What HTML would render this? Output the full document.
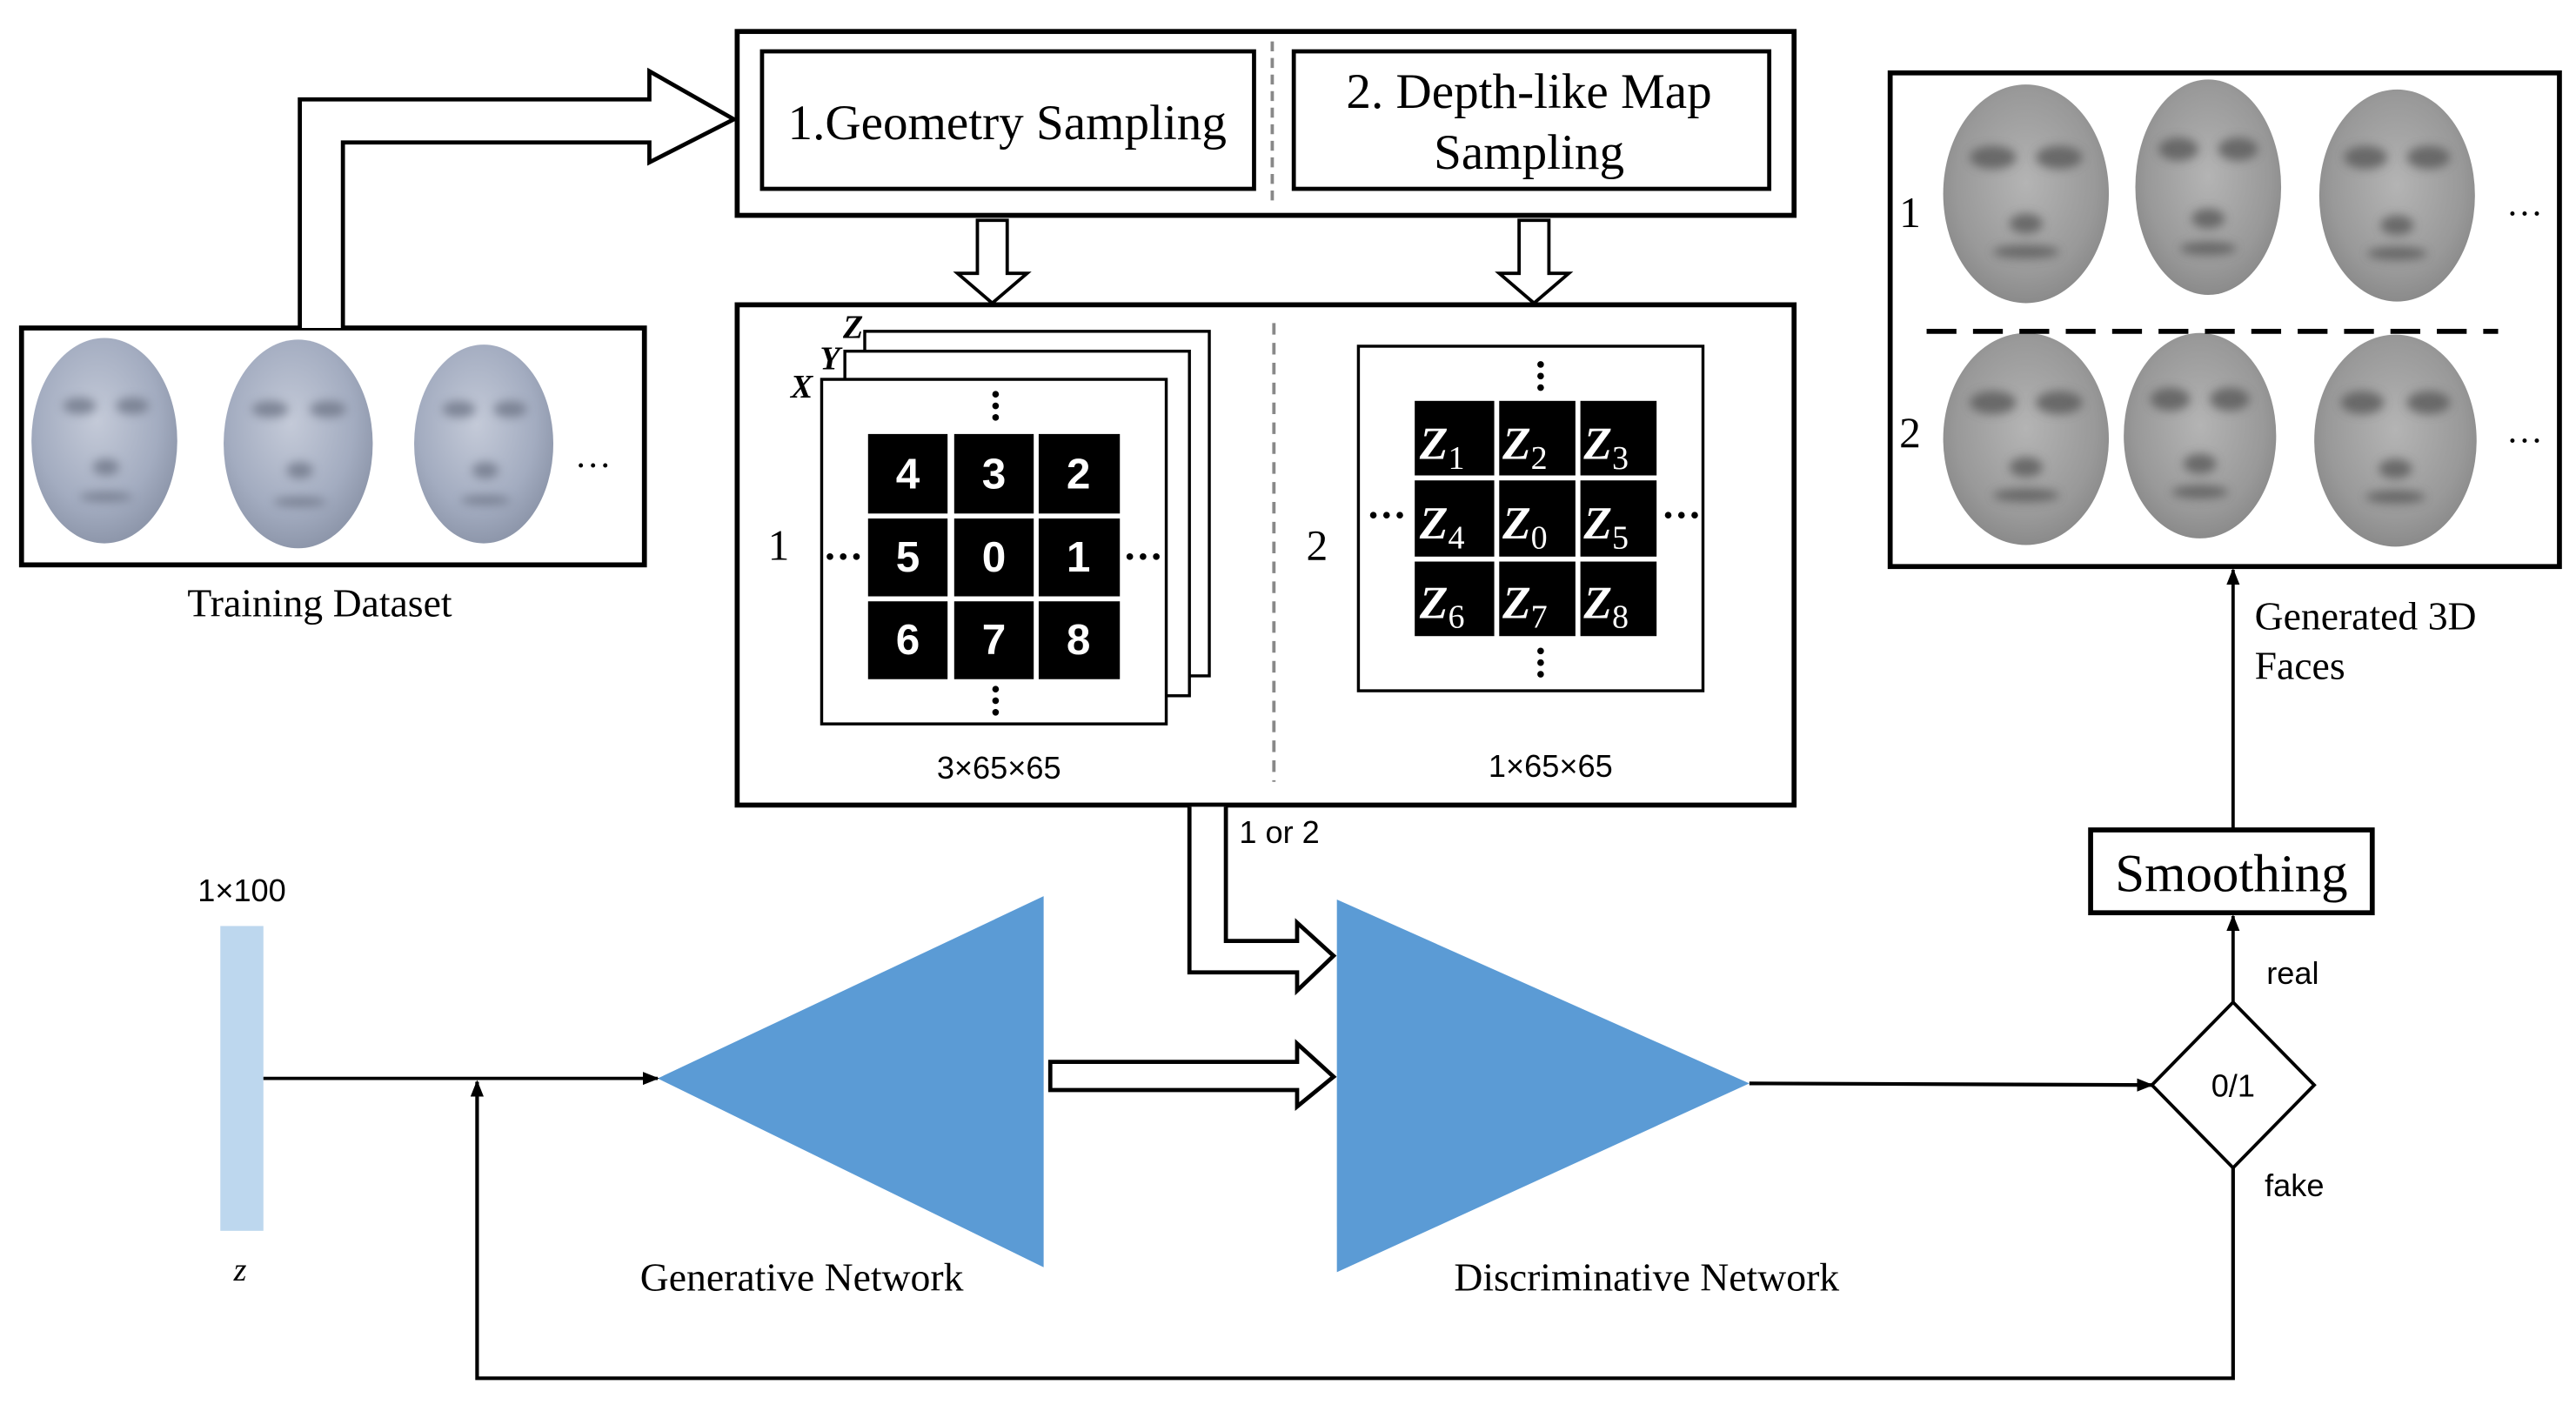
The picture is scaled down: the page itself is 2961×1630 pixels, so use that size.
<!DOCTYPE html>
<html><head><meta charset="utf-8"><style>
html,body{margin:0;padding:0;background:#fff;}
svg{display:block;}
.serif{font-family:"Liberation Serif",serif;}
.sans{font-family:"Liberation Sans","DejaVu Sans",sans-serif;}
</style></head><body>
<svg width="2961" height="1630" viewBox="0 0 1555 856" preserveAspectRatio="none" xmlns="http://www.w3.org/2000/svg">
<defs>
<radialGradient id="fb" cx="45%" cy="40%" r="60%">
<stop offset="0" stop-color="#c4cad8"/><stop offset="0.7" stop-color="#a3acc0"/><stop offset="1" stop-color="#8e97ab"/>
</radialGradient>
<radialGradient id="fg" cx="50%" cy="45%" r="60%">
<stop offset="0" stop-color="#b4b4b4"/><stop offset="0.7" stop-color="#999"/><stop offset="1" stop-color="#858585"/>
</radialGradient>
<filter id="bl" x="-50%" y="-50%" width="200%" height="200%"><feGaussianBlur stdDeviation="3"/></filter>
<marker id="ah" markerWidth="10" markerHeight="8" refX="9" refY="4" orient="auto" markerUnits="userSpaceOnUse">
<path d="M0,0 L10,4 L0,8 Z" fill="#000"/></marker>
</defs>
<rect width="1555" height="856" fill="#fff"/>

<!-- Training dataset -->
<rect x="13" y="198" width="376" height="143" fill="#fff" stroke="#000" stroke-width="3"/>
<ellipse cx="63" cy="266" rx="44" ry="62" fill="url(#fb)"/>
<ellipse cx="180" cy="268" rx="45" ry="63" fill="url(#fb)"/>
<ellipse cx="292" cy="268" rx="42" ry="60" fill="url(#fb)"/>
<g fill="#6f7788" filter="url(#bl)" opacity="0.8"><ellipse cx="48" cy="245" rx="10" ry="5"/><ellipse cx="80" cy="245" rx="10" ry="5"/><ellipse cx="163" cy="247" rx="11" ry="5"/><ellipse cx="198" cy="247" rx="11" ry="5"/><ellipse cx="277" cy="247" rx="10" ry="5"/><ellipse cx="308" cy="247" rx="10" ry="5"/>
<ellipse cx="64" cy="282" rx="8" ry="5"/><ellipse cx="181" cy="284" rx="8" ry="5"/><ellipse cx="293" cy="284" rx="8" ry="5"/>
<ellipse cx="64" cy="300" rx="16" ry="3"/><ellipse cx="181" cy="303" rx="16" ry="3"/><ellipse cx="293" cy="302" rx="15" ry="3"/></g>
<text x="358" y="282" class="serif" font-size="22" text-anchor="middle">…</text>
<text x="193" y="372" class="serif" font-size="24" text-anchor="middle">Training Dataset</text>

<!-- hollow arrow to top box -->
<path d="M181,198 L181,60 L392,60 L392,43 L443,72 L392,98 L392,86 L207,86 L207,198" fill="#fff" stroke="#000" stroke-width="2.5"/>

<!-- Top box -->
<rect x="445" y="19" width="638" height="111" fill="#fff" stroke="#000" stroke-width="3"/>
<rect x="460" y="31" width="297" height="83" fill="#fff" stroke="#000" stroke-width="2.5"/>
<rect x="781" y="31" width="287" height="83" fill="#fff" stroke="#000" stroke-width="2.5"/>
<line x1="768" y1="25" x2="768" y2="125" stroke="#888" stroke-width="2" stroke-dasharray="6,4"/>
<text x="608" y="84" class="serif" font-size="30" text-anchor="middle">1.Geometry Sampling</text>
<text x="923" y="65" class="serif" font-size="30" text-anchor="middle">2. Depth-like Map</text>
<text x="923" y="102" class="serif" font-size="30" text-anchor="middle">Sampling</text>

<!-- down arrows -->
<path d="M590,133 L608,133 L608,165 L620,165 L599,183 L578,165 L590,165 Z" fill="#fff" stroke="#000" stroke-width="2"/>
<path d="M917,133 L935,133 L935,165 L947,165 L926,183 L905,165 L917,165 Z" fill="#fff" stroke="#000" stroke-width="2"/>

<!-- middle box -->
<rect x="445" y="184" width="638" height="302" fill="#fff" stroke="#000" stroke-width="3"/>
<line x1="769" y1="195" x2="769" y2="472" stroke="#888" stroke-width="2" stroke-dasharray="7,5"/>

<!-- left stack -->
<rect x="522" y="200" width="208" height="208" fill="#fff" stroke="#000" stroke-width="1.8"/>
<rect x="510" y="212" width="208" height="208" fill="#fff" stroke="#000" stroke-width="1.8"/>
<rect x="496" y="229" width="208" height="208" fill="#fff" stroke="#000" stroke-width="1.8"/>
<text x="484" y="240" class="serif" font-size="20" font-style="italic" font-weight="bold" text-anchor="middle">X</text>
<text x="501" y="223" class="serif" font-size="20" font-style="italic" font-weight="bold" text-anchor="middle">Y</text>
<text x="515" y="204" class="serif" font-size="20" font-style="italic" font-weight="bold" text-anchor="middle">Z</text>
<g fill="#000">
<rect x="524" y="262" width="48" height="48"/><rect x="576" y="262" width="48" height="48"/><rect x="627" y="262" width="49" height="48"/>
<rect x="524" y="313" width="48" height="47"/><rect x="576" y="313" width="48" height="47"/><rect x="627" y="313" width="49" height="47"/>
<rect x="524" y="363" width="48" height="47"/><rect x="576" y="363" width="48" height="47"/><rect x="627" y="363" width="49" height="47"/>
</g>
<g class="sans" font-size="26" font-weight="bold" fill="#fff" text-anchor="middle">
<text x="548" y="295">4</text><text x="600" y="295">3</text><text x="651" y="295">2</text>
<text x="548" y="345">5</text><text x="600" y="345">0</text><text x="651" y="345">1</text>
<text x="548" y="395">6</text><text x="600" y="395">7</text><text x="651" y="395">8</text>
</g>
<g fill="#000"><circle cx="601" cy="238" r="2"/><circle cx="601" cy="245" r="2"/><circle cx="601" cy="252" r="2"/>
<circle cx="601" cy="416" r="2"/><circle cx="601" cy="423" r="2"/><circle cx="601" cy="430" r="2"/>
<circle cx="501" cy="336" r="2"/><circle cx="509" cy="336" r="2"/><circle cx="517" cy="336" r="2"/>
<circle cx="682" cy="336" r="2"/><circle cx="690" cy="336" r="2"/><circle cx="698" cy="336" r="2"/></g>
<text x="470" y="338" class="serif" font-size="26" text-anchor="middle">1</text>
<text x="603" y="470" class="sans" font-size="19" text-anchor="middle">3×65×65</text>

<!-- right grid -->
<rect x="820" y="209" width="208" height="208" fill="#fff" stroke="#000" stroke-width="1.8"/>
<g fill="#000">
<rect x="854" y="242" width="48" height="45"/><rect x="905" y="242" width="46" height="45"/><rect x="954" y="242" width="46" height="45"/>
<rect x="854" y="290" width="48" height="46"/><rect x="905" y="290" width="46" height="46"/><rect x="954" y="290" width="46" height="46"/>
<rect x="854" y="339" width="48" height="45"/><rect x="905" y="339" width="46" height="45"/><rect x="954" y="339" width="46" height="45"/>
</g>
<g class="serif" font-size="28" font-weight="bold" font-style="italic" fill="#fff">
<text x="857" y="277">Z<tspan font-size="20" font-style="normal" font-weight="normal" dy="6">1</tspan></text>
<text x="907" y="277">Z<tspan font-size="20" font-style="normal" font-weight="normal" dy="6">2</tspan></text>
<text x="956" y="277">Z<tspan font-size="20" font-style="normal" font-weight="normal" dy="6">3</tspan></text>
<text x="857" y="325">Z<tspan font-size="20" font-style="normal" font-weight="normal" dy="6">4</tspan></text>
<text x="907" y="325">Z<tspan font-size="20" font-style="normal" font-weight="normal" dy="6">0</tspan></text>
<text x="956" y="325">Z<tspan font-size="20" font-style="normal" font-weight="normal" dy="6">5</tspan></text>
<text x="857" y="373">Z<tspan font-size="20" font-style="normal" font-weight="normal" dy="6">6</tspan></text>
<text x="907" y="373">Z<tspan font-size="20" font-style="normal" font-weight="normal" dy="6">7</tspan></text>
<text x="956" y="373">Z<tspan font-size="20" font-style="normal" font-weight="normal" dy="6">8</tspan></text>
</g>
<g fill="#000"><circle cx="930" cy="220" r="2"/><circle cx="930" cy="227" r="2"/><circle cx="930" cy="234" r="2"/>
<circle cx="930" cy="393" r="2"/><circle cx="930" cy="400" r="2"/><circle cx="930" cy="407" r="2"/>
<circle cx="829" cy="311" r="2"/><circle cx="837" cy="311" r="2"/><circle cx="845" cy="311" r="2"/>
<circle cx="1007" cy="311" r="2"/><circle cx="1015" cy="311" r="2"/><circle cx="1023" cy="311" r="2"/></g>
<text x="795" y="338" class="serif" font-size="26" text-anchor="middle">2</text>
<text x="936" y="469" class="sans" font-size="19" text-anchor="middle">1×65×65</text>

<!-- 1 or 2 arrow -->
<path d="M718,487 L718,587 L783,587 L783,598 L805,577 L783,557 L783,568 L740,568 L740,487" fill="#fff" stroke="#000" stroke-width="2.5"/>
<text x="748" y="509" class="sans" font-size="19">1 or 2</text>

<!-- networks -->
<polygon points="397,651 630,541 630,765" fill="#5b9bd5"/>
<polygon points="807,543 1056,654 807,768" fill="#5b9bd5"/>
<path d="M634,641 L783,641 L783,630 L805,650 L783,668 L783,658 L634,658 Z" fill="#fff" stroke="#000" stroke-width="2.5"/>
<text x="484" y="779" class="serif" font-size="24" text-anchor="middle">Generative Network</text>
<text x="994" y="779" class="serif" font-size="24" text-anchor="middle">Discriminative Network</text>

<!-- z -->
<rect x="133" y="559" width="26" height="184" fill="#bdd7ee"/>
<text x="146" y="544" class="sans" font-size="19" text-anchor="middle">1×100</text>
<text x="145" y="773" class="serif" font-size="20" font-style="italic" text-anchor="middle">z</text>
<line x1="159" y1="651" x2="397" y2="651" stroke="#000" stroke-width="2" marker-end="url(#ah)"/>
<polyline points="1348,705 1348,832 288,832 288,653" fill="none" stroke="#000" stroke-width="2.2" marker-end="url(#ah)"/>
<line x1="1056" y1="654" x2="1299" y2="655" stroke="#000" stroke-width="2.2" marker-end="url(#ah)"/>

<!-- diamond -->
<polygon points="1348,605 1397,655 1348,705 1299,655" fill="#fff" stroke="#000" stroke-width="2"/>
<text x="1348" y="662" class="sans" font-size="19" text-anchor="middle">0/1</text>
<text x="1384" y="594" class="sans" font-size="19" text-anchor="middle">real</text>
<text x="1385" y="722" class="sans" font-size="19" text-anchor="middle">fake</text>
<line x1="1348" y1="605" x2="1348" y2="553" stroke="#000" stroke-width="2" marker-end="url(#ah)"/>

<!-- smoothing -->
<rect x="1262" y="501" width="170" height="50" fill="#fff" stroke="#000" stroke-width="3"/>
<text x="1347" y="538" class="serif" font-size="32" text-anchor="middle">Smoothing</text>
<line x1="1348" y1="501" x2="1348" y2="344" stroke="#000" stroke-width="2" marker-end="url(#ah)"/>
<text x="1361" y="380" class="serif" font-size="24">Generated 3D</text>
<text x="1361" y="410" class="serif" font-size="24">Faces</text>

<!-- generated faces -->
<rect x="1141" y="44" width="404" height="298" fill="#fff" stroke="#000" stroke-width="3"/>
<ellipse cx="1223" cy="117" rx="50" ry="66" fill="url(#fg)"/>
<ellipse cx="1333" cy="113" rx="44" ry="65" fill="url(#fg)"/>
<ellipse cx="1447" cy="118" rx="47" ry="64" fill="url(#fg)"/>
<ellipse cx="1223" cy="265" rx="50" ry="64" fill="url(#fg)"/>
<ellipse cx="1328" cy="263" rx="46" ry="62" fill="url(#fg)"/>
<ellipse cx="1446" cy="266" rx="49" ry="64" fill="url(#fg)"/>
<g fill="#5a5a5a" filter="url(#bl)" opacity="0.8"><ellipse cx="1203" cy="95" rx="14" ry="7"/><ellipse cx="1243" cy="95" rx="14" ry="7"/><ellipse cx="1315" cy="90" rx="12" ry="7"/><ellipse cx="1351" cy="90" rx="12" ry="7"/><ellipse cx="1428" cy="95" rx="13" ry="7"/><ellipse cx="1466" cy="95" rx="13" ry="7"/>
<ellipse cx="1203" cy="243" rx="14" ry="7"/><ellipse cx="1243" cy="243" rx="14" ry="7"/><ellipse cx="1310" cy="241" rx="12" ry="7"/><ellipse cx="1346" cy="241" rx="12" ry="7"/><ellipse cx="1426" cy="243" rx="13" ry="7"/><ellipse cx="1466" cy="243" rx="13" ry="7"/>
<ellipse cx="1223" cy="135" rx="10" ry="6"/><ellipse cx="1333" cy="132" rx="10" ry="6"/><ellipse cx="1447" cy="136" rx="10" ry="6"/>
<ellipse cx="1223" cy="282" rx="10" ry="6"/><ellipse cx="1328" cy="280" rx="10" ry="6"/><ellipse cx="1446" cy="283" rx="10" ry="6"/>
<ellipse cx="1223" cy="152" rx="20" ry="4"/><ellipse cx="1333" cy="150" rx="17" ry="4"/><ellipse cx="1447" cy="153" rx="18" ry="4"/>
<ellipse cx="1223" cy="299" rx="20" ry="4"/><ellipse cx="1328" cy="297" rx="17" ry="4"/><ellipse cx="1446" cy="300" rx="18" ry="4"/></g>
<line x1="1163" y1="200" x2="1508" y2="200" stroke="#000" stroke-width="3" stroke-dasharray="18,10"/>
<text x="1153" y="137" class="serif" font-size="26" text-anchor="middle">1</text>
<text x="1153" y="270" class="serif" font-size="26" text-anchor="middle">2</text>
<text x="1524" y="130" class="serif" font-size="22" text-anchor="middle">…</text>
<text x="1524" y="267" class="serif" font-size="22" text-anchor="middle">…</text>
</svg>
</body></html>
